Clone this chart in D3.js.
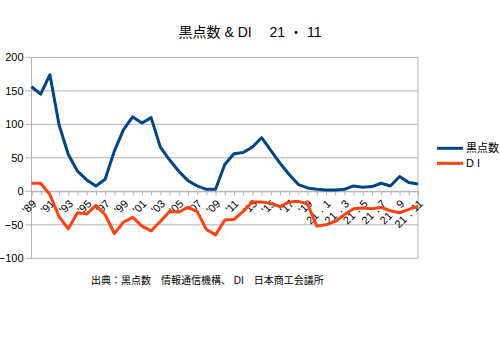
<!DOCTYPE html>
<html><head><meta charset="utf-8">
<script src="https://cdn.jsdelivr.net/npm/d3@7"></script>
<style>body{margin:0;background:#fff}svg{display:block}</style>
</head><body>
<svg id="c" width="500" height="350"></svg>
<script>
const categories = ["'89","'90","'91","'92","'93","'94","'95","'96","'97","'98","'99","'00","'01","'02","'03","'04","'05","'06","'07","'08","'09","'10","'11","'12","'13","'14","'15","'16","'17","'18","'19","'20",
"21．1","21．2","21．3","21．4","21．5","21．6","21．7","21．8","21．9","21．10","21．11"];
const sunspots = [156,145,174,99,55,30,17,8,18,60,92,111,102,110,66,47,30,16,8,3,3,40,56,58,66,80,61,42,25,10,5,3,2,2,3,8,6,7,12,8,22,13,11];
const di = [12,12,-5,-38,-56,-32,-34,-21,-35,-63,-46,-39,-52,-59,-45,-30,-31,-24,-30,-57,-65,-43,-42,-30,-16,-16,-18,-23,-16,-15,-19,-52,-50,-45,-35,-26,-25,-26,-24,-29,-32,-27,-22];
const yTicks = [-100,-50,0,50,100,150,200];
const seriesNames = ["黒点数","D I"];
const colors = ["#004586","#ff420e"];
const title = "黒点数 & DI　 21 ・ 11";
const source = "出典：黒点数　情報通信機構、 DI　日本商工会議所";

const svg = d3.select("#c");
const L = 31.5, R = 418, T = 57.3, B = 258.3;
const x = d3.scalePoint().domain(categories).range([L, R]);
const y = d3.scaleLinear().domain([-100, 200]).range([B, T]);
const font = "'Liberation Sans', Arial, sans-serif";
const cjk = "'Liberation Sans','Noto Sans CJK JP', sans-serif";

// grid
svg.append("g").selectAll("line").data(yTicks).join("line")
  .attr("x1", L - 6).attr("x2", R).attr("y1", d => y(d)).attr("y2", d => y(d))
  .attr("stroke", "#b3b3b3").attr("stroke-width", 1);
// frame verticals
svg.append("line").attr("x1", L).attr("x2", L).attr("y1", T).attr("y2", B).attr("stroke", "#b3b3b3");
svg.append("line").attr("x1", R).attr("x2", R).attr("y1", T).attr("y2", B).attr("stroke", "#b3b3b3");

// y axis labels
const ya = svg.append("g").attr("transform", `translate(${L},0)`)
  .call(d3.axisLeft(y).tickValues(yTicks).tickSize(0).tickPadding(8));
ya.select(".domain").remove();
ya.selectAll("text").attr("font-family", font).attr("font-size", 11).attr("fill", "#000");

// x axis at zero
const xa = svg.append("g").attr("transform", `translate(0,${y(0)})`)
  .call(d3.axisBottom(x).tickSize(4).tickFormat((d, i) => i % 2 === 0 ? d : ""));
xa.select(".domain").attr("stroke", "#b3b3b3");
xa.selectAll(".tick line").attr("stroke", "#b3b3b3");
xa.selectAll("text").attr("font-family", font).attr("font-size", 11).attr("fill", "#000")
  .attr("text-anchor", "end").attr("dy", 0).attr("y", 0)
  .attr("transform", "translate(5,13) rotate(-45)");

// lines
const series = [sunspots, di];
series.forEach((s, k) => {
  svg.append("path").datum(s)
    .attr("fill", "none").attr("stroke", colors[k]).attr("stroke-width", 3)
    .attr("stroke-linejoin", "round")
    .attr("d", d3.line().x((d, i) => x(categories[i])).y(d => y(d)));
});

// title
svg.append("text").attr("x", 250).attr("y", 37).attr("text-anchor", "middle")
  .attr("font-family", cjk).attr("font-size", 14).attr("fill", "#000").text(title);

// legend
const lg = svg.append("g");
seriesNames.forEach((n, k) => {
  const ly = 148.3 + k * 15;
  lg.append("line").attr("x1", 437).attr("x2", 463).attr("y1", ly).attr("y2", ly)
    .attr("stroke", colors[k]).attr("stroke-width", 3);
  lg.append("text").attr("x", 466).attr("y", ly + 4).attr("font-family", cjk)
    .attr("font-size", 11).attr("fill", "#000").text(n);
});

// source
svg.append("text").attr("x", 91).attr("y", 284).attr("font-family", cjk)
  .attr("font-size", 10).attr("fill", "#000").text(source);
</script>
</body></html>
